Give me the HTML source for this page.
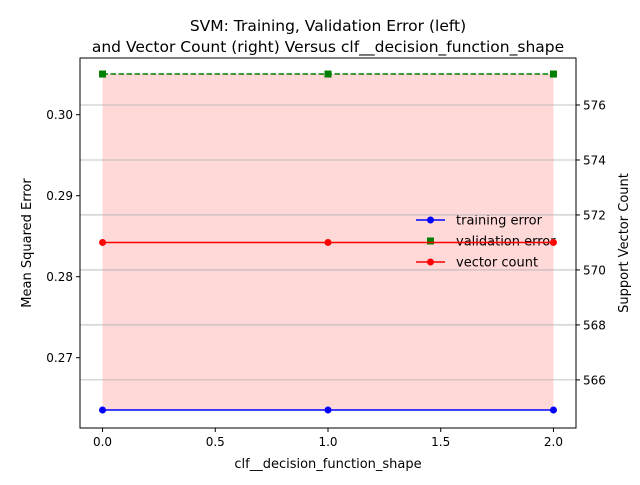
<!DOCTYPE html>
<html><head><meta charset="utf-8"><style>
body{margin:0;background:#fff}
svg text{font-family:"DejaVu Sans","Liberation Sans",sans-serif;fill:#000}
</style></head><body>
<svg id="chart" width="640" height="480" xmlns="http://www.w3.org/2000/svg"></svg>
<script>
const xValues=[0,1,2];
const trainingError=[0.26354,0.26354,0.26354];
const validationError=[0.30502,0.30502,0.30502];
const vectorCount=[571,571,571];
const xTicks=[0,0.5,1,1.5,2];
const xTickLabels=["0.0","0.5","1.0","1.5","2.0"];
const leftTicks=[0.27,0.28,0.29,0.30];
const leftTickLabels=["0.27","0.28","0.29","0.30"];
const rightTicks=[566,568,570,572,574,576];
const rightTickLabels=["566","568","570","572","574","576"];

const L=80,R=576,T=58,B=428;
const xs=v=>L+(v+0.1)/2.2*(R-L);
const yl=v=>B-(v-0.26132)/(0.3070-0.26132)*(B-T);
const yr=v=>B-(v-564.25)/(577.71-564.25)*(B-T);
const svg=document.getElementById('chart');
const NS="http://www.w3.org/2000/svg";
function mk(tag,attrs,name,text){const e=document.createElementNS(NS,tag);for(const k in attrs)e.setAttribute(k,attrs[k]);


if(text!==undefined)e.textContent=text;svg.appendChild(e);return e;}

// fill
let pts=xValues.map((x,i)=>xs(x)+','+yl(validationError[i]));
pts=pts.concat(xValues.slice().reverse().map((x,j)=>{const i=xValues.length-1-j;return xs(x)+','+yl(trainingError[i]);}));
mk('polygon',{points:pts.join(' '),fill:'#ffd8d8'},'error-band');

// training
mk('polyline',{points:xValues.map((x,i)=>xs(x)+','+yl(trainingError[i])).join(' '),fill:'none',stroke:'#0000ff','stroke-width':1.5},'training-error-line');
xValues.forEach((x,i)=>mk('circle',{cx:xs(x),cy:yl(trainingError[i]),r:3.5,fill:'#0000ff'},'training-point'));
// validation
mk('polyline',{points:xValues.map((x,i)=>xs(x)+','+yl(validationError[i])).join(' '),fill:'none',stroke:'#008000','stroke-width':1.5,'stroke-dasharray':'5.5,2.5'},'validation-error-line');
xValues.forEach((x,i)=>mk('rect',{x:xs(x)-3.5,y:yl(validationError[i])-3.5,width:7,height:7,fill:'#008000'},'validation-point'));

// legend
const lg=[["training error","#0000ff","c",""],["validation error","#008000","s","none"],["vector count","#ff0000","c",""]];
lg.forEach((e,i)=>{const y=220+i*21;
 if(e[3]!=="none")mk('line',{x1:416,x2:445,y1:y,y2:y,stroke:e[1],'stroke-width':1.5},'legend-line');
 if(e[2]==="c")mk('circle',{cx:430.5,cy:y,r:3.5,fill:e[1]},'legend-marker');else mk('rect',{x:427,y:y-3.5,width:7,height:7,fill:e[1]},'legend-marker');
 mk('text',{x:456,y:y+4.5,'font-size':13},'legend-entry',e[0]);});

// right grid
rightTicks.forEach(v=>mk('line',{x1:L,x2:R,y1:yr(v),y2:yr(v),stroke:'#b0b0b0','stroke-width':0.8},'grid-line'));
// vector count
mk('polyline',{points:xValues.map((x,i)=>xs(x)+','+yr(vectorCount[i])).join(' '),fill:'none',stroke:'#ff0000','stroke-width':1.5},'vector-count-line');
xValues.forEach((x,i)=>mk('circle',{cx:xs(x),cy:yr(vectorCount[i]),r:3.5,fill:'#ff0000'},'vector-point'));

// frame
mk('rect',{x:L,y:T,width:R-L,height:B-T,fill:'none',stroke:'#000','stroke-width':1},'plot-frame');
xTicks.forEach((v,i)=>{mk('line',{x1:xs(v),x2:xs(v),y1:B,y2:B+4,stroke:'#000'},'x-tick');
 mk('text',{x:xs(v),y:B+18,'font-size':12,'text-anchor':'middle'},'x-tick-label',xTickLabels[i]);});
leftTicks.forEach((v,i)=>{mk('line',{x1:L-4,x2:L,y1:yl(v),y2:yl(v),stroke:'#000'},'left-tick');
 mk('text',{x:L-7,y:yl(v)+4.5,'font-size':12,'text-anchor':'end'},'left-tick-label',leftTickLabels[i]);});
rightTicks.forEach((v,i)=>{mk('line',{x1:R,x2:R+4,y1:yr(v),y2:yr(v),stroke:'#000'},'right-tick');
 mk('text',{x:R+7,y:yr(v)+4.5,'font-size':12},'right-tick-label',rightTickLabels[i]);});

mk('text',{x:328,y:468,'font-size':13,'text-anchor':'middle'},'x-axis-title','clf__decision_function_shape');
mk('text',{x:31,y:243,'font-size':13,'text-anchor':'middle',transform:'rotate(-90 31 243)'},'left-axis-title','Mean Squared Error');
mk('text',{x:628,y:243,'font-size':13,'text-anchor':'middle',transform:'rotate(-90 628 243)'},'right-axis-title','Support Vector Count');
mk('text',{x:328,y:31,'font-size':15.5,'text-anchor':'middle'},'chart-title','SVM: Training, Validation Error (left)');
mk('text',{x:328,y:52,'font-size':15.5,'text-anchor':'middle'},'chart-subtitle','and Vector Count (right) Versus clf__decision_function_shape');
</script>
</body></html>
